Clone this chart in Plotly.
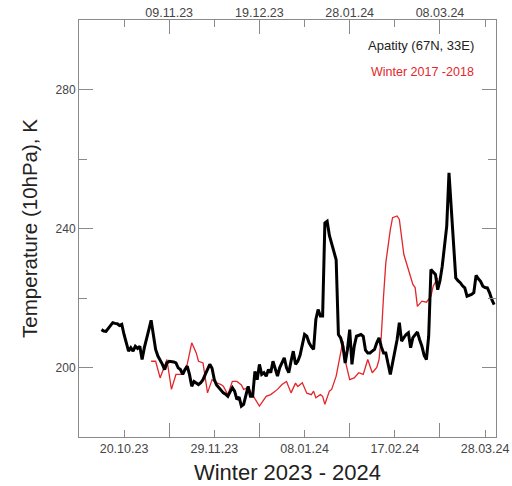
import pandas as pd
import plotly.graph_objects as go

# ---- data (day offsets from 2023-09-30, temperature in K) ----
base_date = "2023-09-30"

black_day = [10, 11, 12, 13, 14, 15, 16, 17, 18, 19, 20, 21, 22, 23, 24, 25, 26, 27, 28, 29,
             30, 31, 32, 33, 34, 35, 36, 37, 38, 39, 40, 41, 42, 43, 44, 45, 46, 47, 48, 49,
             50, 51, 52, 53, 54, 55, 56, 57, 58, 59, 60, 61, 62, 63, 64, 65, 66, 67, 68, 69,
             70, 71, 72, 73, 74, 75, 76, 77, 78, 79, 80, 81, 82, 83, 84, 85, 86, 87, 88, 89,
             90, 91, 92, 93, 94, 95, 96, 97, 98, 99, 100, 101, 102, 103, 104, 105, 106, 107, 108, 109,
             110, 111, 112, 113, 114, 115, 116, 117, 118, 119, 120, 121, 122, 123, 124, 125, 126, 127, 128, 129,
             130, 131, 132, 133, 134, 135, 136, 137, 138, 139, 140, 141, 142, 143, 144, 145, 146, 147, 148, 149,
             150, 151, 152, 153, 154, 155, 156, 157, 158, 159, 160, 161, 162, 163, 164, 165, 166, 167, 168, 169,
             170, 171, 172, 173, 174, 175, 176, 177, 178, 179, 180, 181, 182, 183, 184]
black_temp = [210.9, 210.5, 210.4, 211.2, 211.9, 212.9, 212.7, 212.6, 212.1, 212.4, 209.5, 207.1, 204.7, 205.7, 204.7, 206.1, 205.5, 206.1, 202.3, 205.7,
              208.0, 210.9, 213.6, 210.0, 205.2, 203.3, 202.3, 200.9, 199.4, 201.3, 201.8, 201.8, 201.6, 201.3, 199.9, 199.4, 198.0, 199.4, 200.4, 198.0,
              194.6, 196.0, 195.5, 195.1, 195.6, 196.5, 198.0, 199.5, 200.9, 199.8, 196.5, 195.0, 194.2, 193.5, 192.7, 192.3, 191.7, 193.0, 194.2, 193.2,
              190.8, 191.5, 188.9, 189.4, 192.0, 194.6, 191.7, 191.7, 198.9, 196.5, 200.9, 198.0, 198.5, 197.5, 199.4, 198.5, 201.8, 199.5, 197.5, 200.0,
              201.3, 202.8, 199.9, 198.5, 201.8, 204.7, 200.9, 201.8, 203.5, 206.1, 209.5, 209.0, 207.1, 206.0, 205.2, 213.8, 216.7, 214.8, 214.8, 241.6,
              242.1, 238.0, 235.9, 233.5, 231.0, 209.5, 208.5, 206.1, 201.3, 205.2, 210.9, 200.9, 206.1, 209.0, 209.3, 209.5, 209.0, 205.0, 204.2, 204.2,
              204.7, 205.2, 207.1, 208.5, 206.0, 204.2, 204.2, 201.3, 198.0, 201.3, 204.2, 208.0, 212.9, 207.6, 208.6, 209.5, 210.0, 205.7, 208.6, 209.5,
              210.2, 208.0, 206.1, 203.5, 202.3, 209.0, 228.2, 227.5, 226.8, 222.4, 225.0, 229.1, 235.0, 240.7, 256.0, 245.0, 235.0, 225.8, 225.0, 224.4,
              223.5, 222.9, 220.5, 220.7, 221.0, 221.5, 226.5, 225.5, 224.8, 223.4, 223.0, 222.9, 221.5, 219.5, 218.1]

red_day = [32, 34, 36, 39, 41, 43, 46, 48, 50, 52, 53, 55, 57, 59, 61, 63, 64, 66, 68, 70,
           72, 73, 75, 77, 80, 83, 85, 88, 90, 92, 93, 94, 96, 97, 99, 101, 103, 104, 105, 107,
           108, 109, 111, 112, 114, 116, 117, 118, 120, 122, 124, 126, 128, 130, 132, 133, 134, 135, 136, 138,
           139, 141, 142, 144, 146, 148, 149, 150, 152, 154, 156, 157, 159]
red_temp = [201.8, 201.8, 197.0, 202.3, 193.7, 198.0, 198.0, 200.9, 207.1, 204.2, 201.8, 201.3, 192.7, 196.5, 195.6, 195.1, 194.6, 192.2, 196.0, 196.0,
            195.0, 193.7, 194.2, 192.2, 188.9, 191.7, 192.2, 193.7, 195.1, 196.0, 194.2, 192.7, 195.5, 194.5, 195.6, 192.6, 192.2, 193.2, 191.3, 192.2,
            191.7, 189.4, 193.2, 193.7, 197.5, 204.2, 207.6, 202.0, 196.5, 197.0, 198.5, 198.0, 202.3, 198.5, 200.0, 202.3, 209.0, 220.5, 230.1, 239.7,
            243.1, 243.6, 242.6, 232.5, 228.2, 223.9, 223.0, 217.6, 219.1, 218.8, 220.5, 223.4, 225.8]

bottom_tick_dates = ["2023-10-20", "2023-11-29", "2024-01-08", "2024-02-17", "2024-03-28"]
bottom_tick_labels = ["20.10.23", "29.11.23", "08.01.24", "17.02.24", "28.03.24"]
top_tick_dates = ["2023-11-09", "2023-12-19", "2024-01-28", "2024-03-08"]
top_tick_labels = ["09.11.23", "19.12.23", "28.01.24", "08.03.24"]

y_major = [200, 240, 280]
y_minor = [220, 260]

x_range = ["2023-09-30 01:00", "2024-04-01 20:00"]
y_range = [180, 300]

base = pd.Timestamp(base_date)
black_x = [base + pd.Timedelta(days=d) for d in black_day]
red_x = [base + pd.Timedelta(days=d) for d in red_day]

FONT = "Arial, Liberation Sans, sans-serif"
AX = "#8a8a8a"
TXT = "#444444"

fig = go.Figure()
fig.add_trace(go.Scatter(x=red_x, y=red_temp, mode="lines",
                         line=dict(color="#e3262a", width=1.3), showlegend=False))
fig.add_trace(go.Scatter(x=black_x, y=black_temp, mode="lines",
                         line=dict(color="#000000", width=3), showlegend=False))

fig.update_layout(
    width=512, height=486,
    margin=dict(l=79, r=16, t=20, b=49),
    paper_bgcolor="white", plot_bgcolor="white",
    showlegend=False,
    font=dict(family=FONT, color=TXT),
    xaxis=dict(type="date", range=x_range, tickmode="array", automargin=False,
               tickvals=bottom_tick_dates, ticktext=bottom_tick_labels,
               ticks="inside", ticklen=7, tickcolor=AX, tickwidth=1,
               showline=True, linecolor=AX, linewidth=1, mirror="ticks",
               showgrid=False, zeroline=False,
               tickfont=dict(size=12.5, color=TXT, family=FONT),
               title=dict(text="Winter 2023 - 2024", standoff=9,
                          font=dict(size=22, color="#222222", family=FONT))),
    xaxis2=dict(type="date", range=x_range, overlaying="x", side="top", automargin=False,
                tickmode="array", tickvals=top_tick_dates, ticktext=top_tick_labels,
                ticks="inside", ticklen=14, tickcolor=AX, tickwidth=1,
                showline=False, mirror="ticks", showgrid=False, zeroline=False,
                tickfont=dict(size=12.5, color=TXT, family=FONT)),
    yaxis=dict(range=y_range, tickmode="array", tickvals=y_major, automargin=False,
               ticktext=[str(v) for v in y_major],
               ticks="inside", ticklen=14, tickcolor=AX, tickwidth=1,
               showline=True, linecolor=AX, linewidth=1, mirror="ticks",
               showgrid=False, zeroline=False,
               tickfont=dict(size=12, color=TXT, family=FONT),
               title=dict(text="Temperature (10hPa), K", standoff=12,
                          font=dict(size=20.5, color="#222222", family=FONT))),
    yaxis2=dict(range=y_range, overlaying="y", tickmode="array", tickvals=y_minor,
                automargin=False,
                showticklabels=False, ticks="inside", ticklen=8, tickcolor=AX,
                tickwidth=1, showline=False, mirror="ticks", showgrid=False,
                zeroline=False),
)

# invisible trace to activate overlay axes
fig.add_trace(go.Scatter(x=[black_x[0]], y=[black_temp[0]], xaxis="x2", yaxis="y2",
                         mode="markers", marker=dict(opacity=0), hoverinfo="skip",
                         showlegend=False))

fig.add_annotation(text="Apatity (67N, 33E)", xref="paper", yref="paper",
                   x=0.819, y=0.940, showarrow=False, xanchor="center", yanchor="middle",
                   font=dict(size=13, color="#222222", family=FONT))
fig.add_annotation(text="Winter 2017 -2018", xref="paper", yref="paper",
                   x=0.823, y=0.875, showarrow=False, xanchor="center", yanchor="middle",
                   font=dict(size=12.5, color="#e3262a", family=FONT))

fig.write_html("out.html")
